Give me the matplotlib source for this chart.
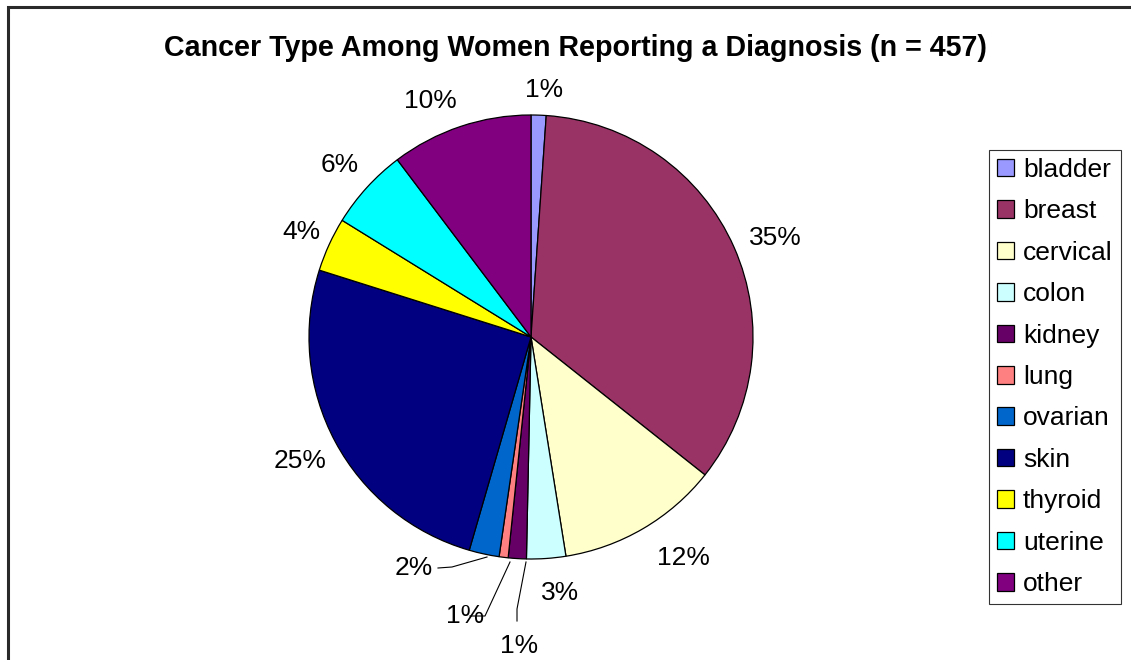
import matplotlib
matplotlib.use("Agg")
import matplotlib.pyplot as plt
import matplotlib.patches as mpatches
import numpy as np

plt.rcParams['font.family'] = ['Liberation Sans', 'DejaVu Sans']

categories = ['bladder', 'breast', 'cervical', 'colon', 'kidney', 'lung',
              'ovarian', 'skin', 'thyroid', 'uterine', 'other']
counts = [5, 158, 54, 13, 6, 3, 10, 116, 18, 27, 47]
colors = ['#9999FF', '#993366', '#FFFFCC', '#CCFFFF', '#660066', '#FF8080',
          '#0066CC', '#000080', '#FFFF00', '#00FFFF', '#800080']
title = 'Cancer Type Among Women Reporting a Diagnosis (n = 457)'

W, H = 1131, 660
fig = plt.figure(figsize=(W / 100, H / 100), dpi=100)

# chart border (only left/top visible)
fig.patches.append(mpatches.Rectangle((8 / W, -0.5), 2.0, 1.5 - 7 / H,
                                      transform=fig.transFigure, fill=False,
                                      edgecolor='#2a2a2a', linewidth=2.2))

cx, cy, R = 531, 337, 222
ax = fig.add_axes([(cx - R) / W, (H - cy - R) / H, 2 * R / W, 2 * R / H])

wedges, _ = ax.pie(counts, colors=colors, startangle=90, counterclock=False,
                   radius=1, wedgeprops=dict(edgecolor='black', linewidth=0.9))
ax.set_xlim(-1, 1)
ax.set_ylim(-1, 1)
ax.set_aspect('auto')
ax.axis('off')

total = sum(counts)
pcts = [int(np.floor(100 * c / total + 0.5)) for c in counts]

def px2d(px, py):
    return (px - cx) / R, (cy - py) / R

FS = 19
# label placement: (distance in radius units, angle offset in degrees)
label_pos = {0: (1.114, -1.0), 1: (1.186, -1.7), 2: (1.208, 4.2), 3: (1.16, 2.6),
             7: (1.181, 0.0), 8: (1.135, 0.0), 9: (1.158, 0.3), 10: (1.155, 4.5)}
for i, w in enumerate(wedges):
    if i in label_pos:
        d, off = label_pos[i]
        mid = np.deg2rad((w.theta1 + w.theta2) / 2 + off)
        ax.text(d * np.cos(mid), d * np.sin(mid), f'{pcts[i]}%', ha='center',
                va='center', fontsize=FS)

# leader-line labels: (text pos px, line points px)
leaders = {
    6: ((414, 568), [(438, 568), (452, 567), (487, 557)]),
    5: ((465, 616), [(470, 616), (485, 616), (510, 562)]),
    4: ((519, 646), [(517, 621), (517, 609), (526, 562)]),
}
for i, (tp, pts) in leaders.items():
    x, y = px2d(*tp)
    ax.text(x, y, f'{pcts[i]}%', ha='center', va='center', fontsize=FS)
    xs, ys = zip(*[px2d(*p) for p in pts])
    ax.plot(xs, ys, color='black', linewidth=0.8, clip_on=False)

fig.text(575 / W, 1 - 48 / H, title, ha='center', va='center',
         fontsize=20.6, fontweight='bold')

leg = fig.legend(wedges, categories, loc='upper left',
                 bbox_to_anchor=(989 / W, 1 - 150 / H), fontsize=19,
                 frameon=True, fancybox=False, edgecolor='black',
                 handlelength=0.65, handleheight=0.65, handletextpad=0.34,
                 labelspacing=0.66, borderpad=0.3, borderaxespad=0)
leg.get_frame().set_linewidth(0.8)

fig.savefig('out.png', dpi=100)
